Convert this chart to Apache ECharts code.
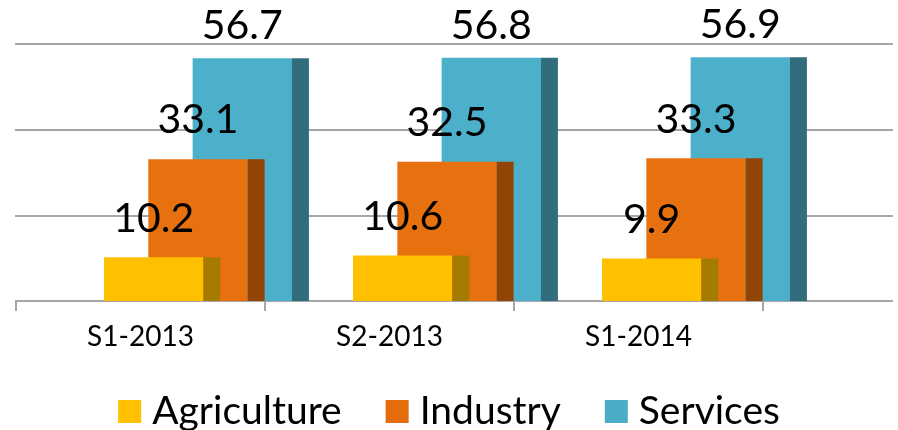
<!DOCTYPE html>
<html>
<head>
<meta charset="utf-8">
<script src="https://cdn.jsdelivr.net/npm/echarts@6/dist/echarts.min.js"></script>
<style>
  html, body { margin: 0; padding: 0; background: #fff; }
  #chart { width: 898px; height: 430px; }
</style>
</head>
<body>
<div id="chart"></div>
<script>
const categories = ['S1-2013', 'S2-2013', 'S1-2014'];
const agriculture = [10.2, 10.6, 9.9];
const industry = [33.1, 32.5, 33.3];
const services = [56.7, 56.8, 56.9];

const gridColor = '#A6A6A6';

// draws one pseudo-3d column: front face + darker side face + value label
function makeRender(k, front, side, labelGap) {
  return function (params, api) {
    const top = api.coord([api.value(0), api.value(1)]);
    const base = api.coord([api.value(0), 0])[1];
    const cw = api.size([1, 0])[0];
    const w = cw * 0.399;
    const sw = cw * 0.068;
    const x = top[0] + cw * (-0.1466 + k * 0.178);
    return {
      type: 'group',
      children: [
        { type: 'rect', shape: { x: x, y: top[1], width: w, height: base - top[1] }, style: { fill: front } },
        { type: 'rect', shape: { x: x + w, y: top[1], width: sw, height: base - top[1] }, style: { fill: side } },
        {
          type: 'text',
          x: x + w / 2,
          y: top[1] - labelGap,
          style: {
            text: api.value(1).toFixed(1),
            font: '41px Lato',
            fill: '#000',
            align: 'center',
            verticalAlign: 'middle'
          }
        }
      ]
    };
  };
}

function toData(arr) {
  return arr.map((v, i) => [i, v]);
}

const option = {
  animation: false,
  grid: [
    { left: 16, right: 135, top: 44, bottom: 129 },
    { left: 15, right: 5, top: 44, bottom: 129 }
  ],
  xAxis: [
    {
      type: 'category',
      gridIndex: 0,
      data: categories,
      axisLine: { show: false },
      axisTick: { show: true, length: 10, lineStyle: { color: gridColor, width: 2 } },
      axisLabel: { color: '#000', fontFamily: 'Lato', fontSize: 28, margin: 22 }
    },
    { type: 'value', gridIndex: 1, show: false, min: 0, max: 1 }
  ],
  yAxis: [
    { type: 'value', gridIndex: 0, min: 0, max: 60, interval: 20, show: false },
    {
      type: 'value', gridIndex: 1, min: 0, max: 60, interval: 20,
      axisLine: { show: false }, axisTick: { show: false }, axisLabel: { show: false },
      splitLine: { show: true, lineStyle: { color: gridColor, width: 2 } }
    }
  ],
  legend: {
    data: ['Agriculture', 'Industry', 'Services'],
    top: 387,
    left: 'center',
    icon: 'rect',
    itemWidth: 23,
    itemHeight: 23,
    itemGap: 44,
    textStyle: { color: '#000', fontFamily: 'Lato', fontSize: 39, padding: [0, 0, 0, 6] }
  },
  series: [
    {
      name: 'Agriculture', type: 'custom', z: 4,
      itemStyle: { color: '#FFC000' },
      renderItem: makeRender(0, '#FFC000', '#A57C00', 39),
      data: toData(agriculture)
    },
    {
      name: 'Industry', type: 'custom', z: 3,
      itemStyle: { color: '#E46C0A' },
      renderItem: makeRender(1, '#E8710F', '#924306', 39),
      data: toData(industry)
    },
    {
      name: 'Services', type: 'custom', z: 2,
      itemStyle: { color: '#4BACC6' },
      renderItem: makeRender(2, '#4DB0CB', '#316D7D', 32),
      data: toData(services)
    }
  ]
};

const myChart = echarts.init(document.getElementById('chart'));
myChart.setOption(option);
window.onresize = function () {
  myChart.resize();
};
</script>
</body>
</html>
